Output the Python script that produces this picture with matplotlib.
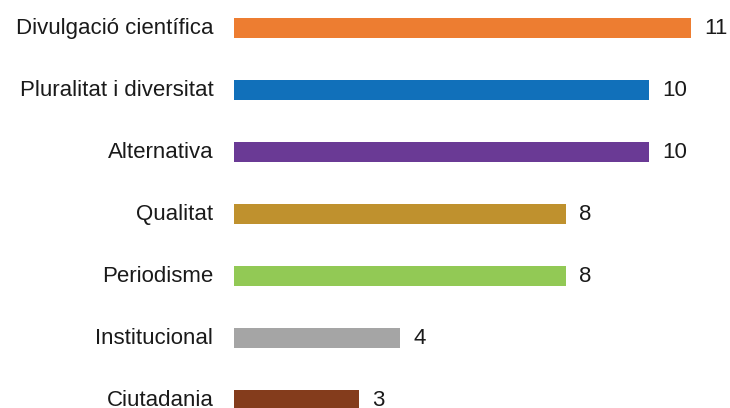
import matplotlib
matplotlib.use("Agg")
import matplotlib.pyplot as plt

# categories top to bottom
categories = ["Divulgació científica", "Pluralitat i diversitat", "Alternativa",
              "Qualitat", "Periodisme", "Institucional", "Ciutadania"]
values = [11, 10, 10, 8, 8, 4, 3]
colors = ["#ED7D31", "#1170BA", "#6A3A95", "#BF912E", "#92C955", "#A5A5A5", "#843C1C"]

plt.rcParams['font.family'] = ['Liberation Sans', 'DejaVu Sans']

fig = plt.figure(figsize=(7.3, 4.08), dpi=100)
# axes placed so that value 0 sits at x=234px and rows are ~62px apart
row = 62.05
ax = fig.add_axes([234 / 730, 0, 498 / 730, 1])
ypos = list(range(len(categories)))
ax.barh(ypos, values, height=20 / row, color=colors)
ax.set_xlim(0, 12)
ax.set_ylim((408 - 27.7) / row, -27.7 / row)

fs = 16
# baseline sits a few px below the bar centre
off = 6.5 / row
for y, v, name in zip(ypos, values, categories):
    ax.text(v + 0.32, y + off, str(v), va='baseline', ha='left', fontsize=fs, color='#1a1a1a')
    ax.text(-0.5, y + off, name, va='baseline', ha='right', fontsize=fs, color='#1a1a1a',
            clip_on=False)

ax.set_yticks([])
ax.set_xticks([])
for s in ax.spines.values():
    s.set_visible(False)

fig.savefig("out.png", dpi=100)
